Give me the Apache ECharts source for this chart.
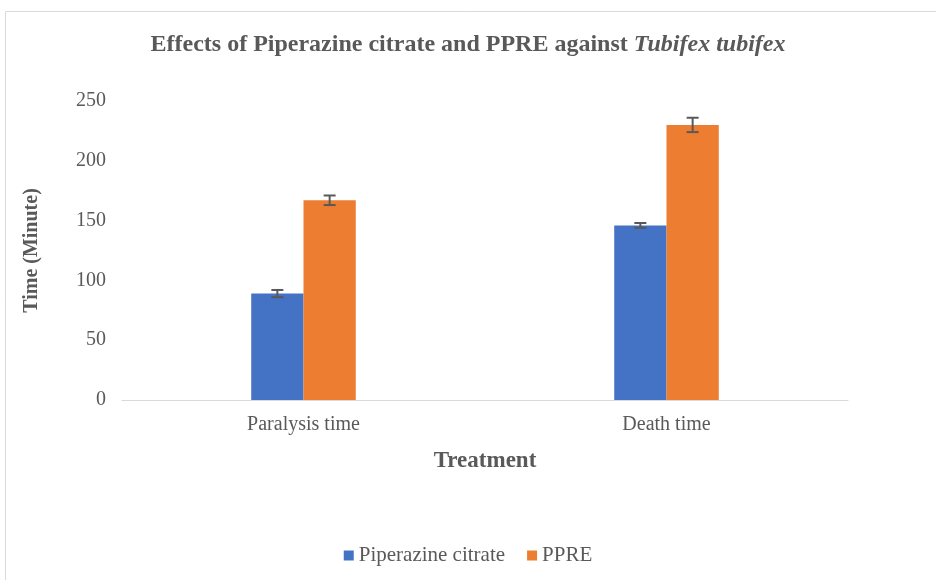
<!DOCTYPE html>
<html>
<head>
<meta charset="utf-8">
<script src="https://cdn.jsdelivr.net/npm/echarts@6/dist/echarts.min.js"></script>
<style>
  html, body { margin: 0; padding: 0; background: #fff; }
  #chart { width: 936px; height: 580px; }
</style>
</head>
<body>
<div id="chart"></div>
<script>
const categories = ["Paralysis time", "Death time"]
const piperazine = [89, 146]
const piperazineErr = [3, 2]
const ppre = [167, 230]
const ppreErr = [4, 6]
const yTicks = [0, 50, 100, 150, 200, 250]

const font = "'Liberation Serif', 'Times New Roman', serif"
const textColor = "#595959"

// 误差线 (custom series)
function errorSeries(values, errs, offset) {
  return {
    type: "custom",
    z: 10,
    silent: true,
    data: values.map((v, i) => [i, v - errs[i], v + errs[i]]),
    renderItem: (params, api) => {
      const low = api.coord([api.value(0), api.value(1)])
      const high = api.coord([api.value(0), api.value(2)])
      const bw = api.size([1, 0])[0] * 0.144
      const x = low[0] + offset * bw
      const cap = 6
      const style = { stroke: textColor, lineWidth: 2 }
      return {
        type: "group",
        children: [
          { type: "line", shape: { x1: x, y1: low[1], x2: x, y2: high[1] }, style },
          { type: "line", shape: { x1: x - cap, y1: low[1], x2: x + cap, y2: low[1] }, style },
          { type: "line", shape: { x1: x - cap, y1: high[1], x2: x + cap, y2: high[1] }, style }
        ]
      }
    }
  }
}

const chart = echarts.init(document.getElementById("chart"))
chart.setOption({
  animation: false,
  textStyle: { fontFamily: font },
  graphic: [{
    type: "rect",
    shape: { x: 5.5, y: 11.5, width: 940, height: 580 },
    style: { fill: "none", stroke: "#d9d9d9", lineWidth: 1 }
  }],
  title: {
    text: "{b|Effects of Piperazine citrate and PPRE against }{i|Tubifex tubifex}",
    left: "center",
    top: 28,
    textStyle: {
      rich: {
        b: { fontFamily: font, fontWeight: "bold", fontSize: 24, color: textColor },
        i: { fontFamily: font, fontWeight: "bold", fontStyle: "italic", fontSize: 24, color: textColor }
      }
    }
  },
  legend: {
    bottom: 9,
    left: "center",
    itemWidth: 10,
    itemHeight: 10,
    itemGap: 22,
    icon: "rect",
    textStyle: { fontFamily: font, fontSize: 21, color: textColor },
    data: ["Piperazine citrate", "PPRE"]
  },
  grid: { left: 122, right: 88, top: 101, bottom: 180 },
  xAxis: {
    type: "category",
    data: categories,
    name: "Treatment",
    nameLocation: "middle",
    nameGap: 50,
    nameTextStyle: { fontFamily: font, fontWeight: "bold", fontSize: 23, color: textColor },
    axisLine: { lineStyle: { color: "#d9d9d9" } },
    axisTick: { show: false },
    axisLabel: { fontFamily: font, fontSize: 20, color: textColor, margin: 15 }
  },
  yAxis: {
    type: "value",
    min: yTicks[0],
    max: yTicks[yTicks.length - 1],
    interval: 50,
    name: "Time (Minute)",
    nameLocation: "middle",
    nameGap: 80,
    nameTextStyle: { fontFamily: font, fontWeight: "bold", fontSize: 20, color: textColor },
    axisLine: { show: false },
    axisTick: { show: false },
    splitLine: { show: false },
    axisLabel: { fontFamily: font, fontSize: 20, color: textColor, margin: 16 }
  },
  series: [
    {
      name: "Piperazine citrate",
      type: "bar",
      data: piperazine,
      barWidth: "14.4%",
      barGap: "0%",
      itemStyle: { color: "#4472C4" }
    },
    {
      name: "PPRE",
      type: "bar",
      data: ppre,
      barWidth: "14.4%",
      itemStyle: { color: "#ED7D31" }
    },
    errorSeries(piperazine, piperazineErr, -0.5),
    errorSeries(ppre, ppreErr, 0.5)
  ]
})
</script>
</body>
</html>
